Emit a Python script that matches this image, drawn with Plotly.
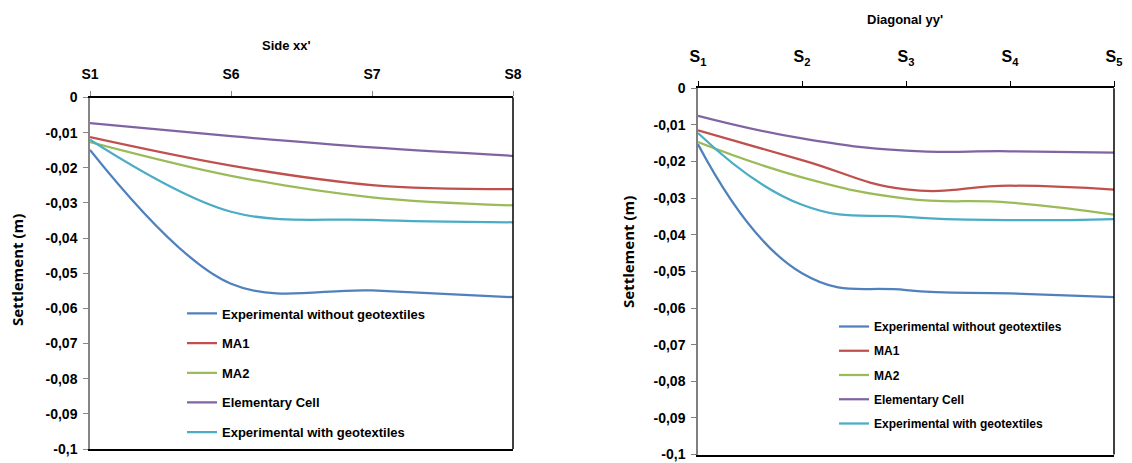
import plotly.graph_objects as go

# Measurement points along each profile
side_points = ["S1", "S6", "S7", "S8"]
side_labels = ["S1", "S6", "S7", "S8"]
diag_points = ["S1", "S2", "S3", "S4", "S5"]
diag_labels = ["S<sub>1</sub>", "S<sub>2</sub>", "S<sub>3</sub>", "S<sub>4</sub>", "S<sub>5</sub>"]

series_names = [
    "Experimental without geotextiles",
    "MA1",
    "MA2",
    "Elementary Cell",
    "Experimental with geotextiles",
]

# Settlements (m) along side xx'
side_exp_without = [-0.0149, -0.0530, -0.0549, -0.0568]
side_ma1 = [-0.0113, -0.0194, -0.0249, -0.0261]
side_ma2 = [-0.0127, -0.0223, -0.0284, -0.0307]
side_cell = [-0.0073, -0.0110, -0.0142, -0.0166]
side_exp_with = [-0.0120, -0.0325, -0.0348, -0.0355]

# Settlements (m) along diagonal yy'
diag_exp_without = [-0.0153, -0.0505, -0.0551, -0.0560, -0.0570]
diag_ma1 = [-0.0115, -0.0196, -0.0276, -0.0266, -0.0277]
diag_ma2 = [-0.0147, -0.0243, -0.0301, -0.0312, -0.0345]
diag_cell = [-0.0075, -0.0137, -0.0170, -0.0172, -0.0176]
diag_exp_with = [-0.0122, -0.0318, -0.0351, -0.0360, -0.0357]

y_tickvals = [0, -0.01, -0.02, -0.03, -0.04, -0.05, -0.06, -0.07, -0.08, -0.09, -0.1]
y_ticktext = ["0", "-0,01", "-0,02", "-0,03", "-0,04", "-0,05", "-0,06", "-0,07", "-0,08", "-0,09", "-0,1"]

colors = ["#4F81BD", "#C0504D", "#9BBB59", "#8064A2", "#4BACC6"]

W, H = 1132, 463
SANS = "Liberation Sans, Arial, sans-serif"


def px_x(v):
    return v / W


def px_y(v):
    return 1 - v / H


fig = go.Figure()

side_series = [side_exp_without, side_ma1, side_ma2, side_cell, side_exp_with]
diag_series = [diag_exp_without, diag_ma1, diag_ma2, diag_cell, diag_exp_with]

for i, (name, vals) in enumerate(zip(series_names, side_series)):
    fig.add_trace(go.Scatter(
        x=side_points, y=vals, name=name, mode="lines",
        line=dict(color=colors[i], width=2.25, shape="spline", smoothing=1),
        xaxis="x", yaxis="y", legend="legend", legendgroup=f"side{i}",
        hoverinfo="skip",
    ))

for i, (name, vals) in enumerate(zip(series_names, diag_series)):
    fig.add_trace(go.Scatter(
        x=diag_points, y=vals, name=name, mode="lines",
        line=dict(color=colors[i], width=2.25, shape="spline", smoothing=1.3),
        xaxis="x2", yaxis="y2", legend="legend2", legendgroup=f"diag{i}",
        hoverinfo="skip",
    ))

tick_font = dict(family=SANS, size=14, color="black", weight="bold")

common_y = dict(
    range=[-0.1, 0], tickmode="array", tickvals=y_tickvals, ticktext=y_ticktext,
    showline=True, linewidth=1.5, ticks="outside", ticklen=5, tickwidth=1,
    showgrid=False, zeroline=False, tickfont=tick_font, ticklabelstandoff=3,
    automargin=False,
)

fig.update_layout(
    width=W, height=H,
    margin=dict(l=0, r=0, t=0, b=0),
    paper_bgcolor="white", plot_bgcolor="white",
    xaxis=dict(
        domain=[px_x(90), px_x(513)], anchor="y", side="top", type="category",
        range=[0, 3], tickmode="array", tickvals=side_points, ticktext=side_labels,
        showline=True, linecolor="black", linewidth=1.5, mirror=True,
        ticks="outside", ticklen=5, tickcolor="#868686",
        showgrid=False, zeroline=False, tickfont=tick_font, ticklabelstandoff=6,
        automargin=False,
    ),
    yaxis=dict(domain=[px_y(449), px_y(97.5)], anchor="x",
               linecolor="#868686", tickcolor="#868686", **common_y),
    xaxis2=dict(
        domain=[px_x(698), px_x(1114)], anchor="y2", side="top", type="category",
        range=[0, 4], tickmode="array", tickvals=diag_points, ticktext=diag_labels,
        showline=True, linecolor="black", linewidth=1.5, mirror=True,
        ticks="outside", ticklen=6, tickcolor="black",
        showgrid=False, zeroline=False,
        tickfont=dict(family=SANS, size=16, color="black", weight="bold"),
        ticklabelstandoff=12, automargin=False,
    ),
    yaxis2=dict(domain=[px_y(454.5), px_y(88.3)], anchor="x2",
                linecolor="#7f7f7f", tickcolor="#7f7f7f", **common_y),
    legend=dict(
        x=px_x(182), y=px_y(298.5), xanchor="left", yanchor="top",
        font=dict(family=SANS, size=13, color="black", weight="bold"),
        tracegroupgap=9.75, bgcolor="rgba(0,0,0,0)", itemclick=False,
    ),
    legend2=dict(
        x=px_x(834), y=px_y(312), xanchor="left", yanchor="top",
        font=dict(family=SANS, size=12, color="black", weight="bold"),
        tracegroupgap=5.25, bgcolor="rgba(0,0,0,0)", itemclick=False,
    ),
    showlegend=True,
)

# Right-hand frame lines of both plot areas
for xr, yr in (("x", "y"), ("x2", "y2")):
    fig.add_shape(type="line", xref=f"{xr} domain", yref=f"{yr} domain",
                  x0=1, x1=1, y0=0, y1=1, line=dict(color="black", width=1.5))

# Profile titles and settlement axis titles
title_font = dict(family=SANS, size=13, color="black", weight="bold")
centered = dict(xref="paper", yref="paper", xanchor="center", yanchor="middle", showarrow=False)
fig.add_annotation(text="Side xx'", x=px_x(286), y=px_y(45), font=title_font, **centered)
fig.add_annotation(text="Diagonal yy'", x=px_x(905), y=px_y(19), font=title_font, **centered)
ytitle_font = dict(family="Open Sans, sans-serif", size=15, color="black", weight="bold")
fig.add_annotation(text="Settlement (m)", x=px_x(17), y=px_y(270), textangle=-90,
                   font=ytitle_font, **centered)
fig.add_annotation(text="Settlement (m)", x=px_x(628), y=px_y(252), textangle=-90,
                   font=ytitle_font, **centered)

fig.write_html("out.html")
